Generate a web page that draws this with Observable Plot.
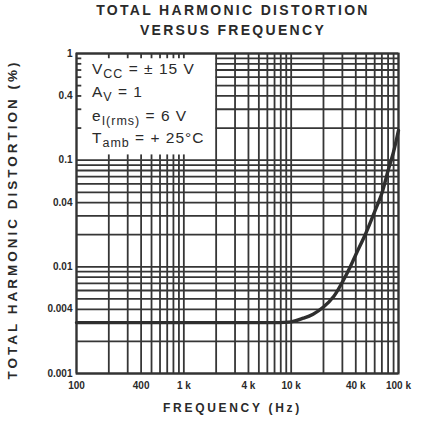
<!DOCTYPE html>
<html>
<head>
<meta charset="utf-8">
<script src="https://cdn.jsdelivr.net/npm/d3@7"></script>
<script src="https://cdn.jsdelivr.net/npm/@observablehq/plot@0.6"></script>
<style>
  body { margin: 0; background: #fff; font-family: "Liberation Sans", Arial, sans-serif; }
  #title { height: 40px; width: 428px; text-align: center; font-weight: bold; font-size: 14px;
           line-height: 20px; color: #2a2a2a; letter-spacing: 2.3px; box-sizing: border-box; padding-left: 38px; }
  svg text { fill: #2a2a2a; }
</style>
</head>
<body>
<div id="title"><div>TOTAL HARMONIC DISTORTION</div><div>VERSUS FREQUENCY</div></div>
<div id="chart"></div>
<script>
// ---- data ----
const freq = [100, 1000, 5000, 10000, 13000, 16000, 20000, 25000, 30000, 35000, 40000, 50000, 60000, 70000, 80000, 90000, 100000];
const thd  = [0.003, 0.003, 0.003, 0.00305, 0.0033, 0.0036, 0.0042, 0.0053, 0.0072, 0.0097, 0.013, 0.021, 0.033, 0.049, 0.08, 0.12, 0.19];
const xTickValues = [100, 400, 1000, 4000, 10000, 40000, 100000];
const xTickLabels = ["100", "400", "1 k", "4 k", "10 k", "40 k", "100 k"];
const yTickValues = [0.001, 0.004, 0.01, 0.04, 0.1, 0.4, 1];
const yTickLabels = ["0.001", "0.004", "0.01", "0.04", "0.1", "0.4", "1"];
const xTitle = "FREQUENCY (Hz)";
const yTitle = "TOTAL HARMONIC DISTORTION (%)";
const legendLines = [
  ["V", "CC", " = ± 15 V"],
  ["A", "V", " = 1"],
  ["e", "I(rms)", " = 6 V"],
  ["T", "amb", " = + 25°C"]
];
const boxX = [100, 2000];   // legend box extent (frequency)
const boxY = [0.1, 1];      // legend box extent (THD)

// ---- grid construction ----
const decadesX = [100, 1000, 10000];
const decadesY = [0.001, 0.01, 0.1];
const gridX = [];
for (const d of decadesX) for (let m = 1; m <= 9; m++) gridX.push(d * m);
gridX.push(100000);
const gridY = [];
for (const d of decadesY) for (let m = 1; m <= 9; m++) gridY.push(d * m);
gridY.push(1);

const tickF = 1.12; // tick stub length as a log factor
const vSegs = [];
for (const x of gridX) {
  if (x > boxX[0] && x < boxX[1]) {
    vSegs.push({x, y1: 0.001, y2: boxY[0]});
    vSegs.push({x, y1: boxY[0], y2: boxY[0] * tickF});
    vSegs.push({x, y1: boxY[1] / tickF, y2: boxY[1]});
  } else {
    vSegs.push({x, y1: 0.001, y2: 1});
  }
}
const hSegs = [];
for (const y of gridY) {
  if (y > boxY[0] && y < boxY[1]) {
    hSegs.push({y, x1: boxX[1], x2: 100000});
    hSegs.push({y, x1: boxX[0], x2: boxX[0] * tickF});
  } else {
    hSegs.push({y, x1: 100, x2: 100000});
  }
}
const curve = freq.map((f, i) => ({f, t: thd[i]}));
const xLabels = xTickValues.map((v, i) => ({v, label: xTickLabels[i]}));
const yLabels = yTickValues.map((v, i) => ({v, label: yTickLabels[i]}));

const gridColor = "#363636";
const plot = Plot.plot({
  width: 428,
  height: 383,
  marginLeft: 76,
  marginRight: 30,
  marginTop: 13,
  marginBottom: 50,
  style: {fontFamily: "Liberation Sans, Arial, sans-serif", background: "#fff", color: "#2a2a2a"},
  x: {type: "log", domain: [100, 100000], axis: null},
  y: {type: "log", domain: [0.001, 1], axis: null},
  marks: [
    Plot.ruleX(vSegs, {x: "x", y1: "y1", y2: "y2", stroke: gridColor, strokeWidth: 1.8}),
    Plot.ruleY(hSegs, {y: "y", x1: "x1", x2: "x2", stroke: gridColor, strokeWidth: 1.8}),
    Plot.frame({stroke: "#333", strokeWidth: 2}),
    Plot.line(curve, {x: "f", y: "t", stroke: "#2e2e2e", strokeWidth: 3.4, curve: "catmull-rom"}),
    Plot.text(xLabels, {x: "v", text: "label", frameAnchor: "bottom", dy: 15, fontSize: 10, fontWeight: "bold", textAnchor: "middle"}),
    Plot.text(yLabels, {y: "v", text: "label", frameAnchor: "left", dx: -4, fontSize: 10, fontWeight: "bold", textAnchor: "end"}),
    Plot.text([xTitle], {frameAnchor: "bottom", dy: 38, dx: -5, fontSize: 12, fontWeight: "bold", textAnchor: "middle"}),
    Plot.text([yTitle], {frameAnchor: "left", dx: -64, dy: 6, rotate: -90, fontSize: 13.5, fontWeight: "bold", textAnchor: "middle"})
  ]
});
document.getElementById("chart").appendChild(plot);

const svg = d3.select(plot);
svg.selectAll("text").filter(function () { return this.textContent === xTitle; }).attr("letter-spacing", 2.7);
svg.selectAll("text").filter(function () { return this.textContent === yTitle; }).attr("letter-spacing", 3.0);

// legend text inside the box (positioned via the plot's scales)
const sx = plot.scale("x"), sy = plot.scale("y");
const legendX = sx.apply(boxX[0]) + 16;
const legendTop = sy.apply(boxY[1]);
const offsets = [20.5, 44, 68, 89.5];
const lg = svg.append("g").attr("font-family", "Liberation Sans, Arial, sans-serif").attr("fill", "#2a2a2a").attr("text-anchor", "start");
legendLines.forEach(([main, sub, rest], i) => {
  const t = lg.append("text").attr("x", legendX).attr("y", legendTop + offsets[i]).attr("font-size", 15.5).attr("letter-spacing", 1);
  t.append("tspan").text(main);
  t.append("tspan").attr("dy", 4).attr("font-size", 12.5).text(sub);
  t.append("tspan").attr("dy", -4).text(rest);
});
</script>
</body>
</html>
